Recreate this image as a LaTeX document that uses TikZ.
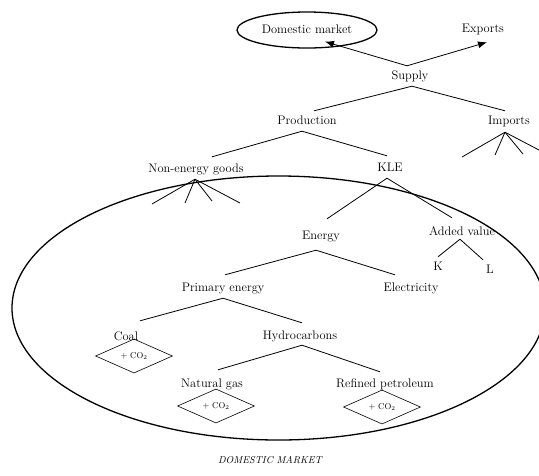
\documentclass[tikz,border=0pt]{standalone}
\usepackage{tikz}
\usetikzlibrary{arrows, arrows.meta, positioning, shapes.geometric}

\begin{document}
\begin{tikzpicture}[x=1pt,y=-1pt]

\tikzset{lbl/.style = {inner xsep=1pt, inner ysep=5pt, text height=8pt, text depth=2pt, font=\fontsize{12.4}{14}\selectfont}}
\tikzset{co2/.style = {shape=diamond, draw, line width=0.6pt, inner sep=0pt, minimum width=77pt, minimum height=25pt, font=\fontsize{8.5}{10}\selectfont}}
\tikzset{link/.style = {line width=0.8pt}}
\tikzset{flow/.style = {line width=0.8pt, -{Latex[length=9pt,width=7pt]}}}
\useasboundingbox (0,0) rectangle (539,475);

% market
\draw[line width=1.3pt] (278.5,308) ellipse [x radius=266.5, y radius=132];
\node[font=\fontsize{10}{12}\selectfont\itshape] (title) at (270,460) {DOMESTIC MARKET};

% nodes
\node[lbl, shape=ellipse, draw, line width=1.3pt, minimum width=140pt, minimum height=36pt] (dm) at (307,30) {Domestic market};
\node[lbl] (exp) at (483,29) {Exports};
\node[lbl] (sup) at (410,76) {Supply};
\node[lbl] (prod) at (307,121) {Production};
\node[lbl] (imp) at (509,121) {Imports};
\node[lbl] (neg) at (196,169) {Non-energy goods};
\node[lbl] (kle) at (390,168) {KLE};
\node[lbl] (en) at (321,236) {Energy};
\node[lbl] (av) at (462,232) {Added value};
\node[lbl] (k) at (438,267) {K};
\node[lbl] (l) at (490,270) {L};
\node[lbl] (pe) at (223,288) {Primary energy};
\node[lbl] (el) at (411,288) {Electricity};
\node[lbl] (coal) at (126,337) {Coal};
\node[lbl] (hc) at (300,336) {Hydrocarbons};
\node[lbl] (ng) at (212,384) {Natural gas};
\node[lbl] (rp) at (385,384) {Refined petroleum};
\node[co2] (co2a) at (134,356) {+ CO$_2$};
\node[co2] (co2b) at (216,406) {+ CO$_2$};
\node[co2] (co2c) at (382,407) {+ CO$_2$};

% fan ends
\foreach \i/\x/\y in {1/152/204, 2/185/203, 3/212/201, 4/240/203}
  \coordinate (negend\i) at (\x,\y);
\foreach \i/\x/\y in {1/462/157, 2/495/155, 3/523/154, 4/539/150}
  \coordinate (impend\i) at (\x,\y);

% edges
\draw[flow] ([xshift=-3pt]sup.north) -- ([xshift=18pt,yshift=7pt]dm.south);
\draw[flow] ([xshift=-3pt]sup.north) -- ([xshift=4pt,yshift=-3pt]exp.south);
\draw[link] ([xshift=2pt]sup.south) -- ([xshift=7pt]prod.north);
\draw[link] ([xshift=2pt]sup.south) -- ([xshift=-4pt]imp.north);
\draw[link] ([xshift=-5pt]prod.south) -- ([xshift=16pt,yshift=2pt]neg.north);
\draw[link] ([xshift=-5pt]prod.south) -- ([xshift=-3pt,yshift=2pt]kle.north);
\foreach \i in {1,...,4}
  \draw[link] ([xshift=-1pt]neg.south) -- (negend\i);
\foreach \i in {1,...,4}
  \draw[link] ([xshift=-4pt,yshift=-1pt]imp.south) -- (impend\i);
\draw[link] ([xshift=-3pt]kle.south) -- ([xshift=6pt,yshift=7pt]en.north);
\draw[link] ([xshift=-3pt]kle.south) -- ([xshift=-10pt,yshift=4pt]av.north);
\draw[link] ([xshift=-2pt,yshift=3pt]av.south) -- (k.north);
\draw[link] ([xshift=-2pt,yshift=3pt]av.south) -- ([xshift=-7pt]l.north);
\draw[link] ([xshift=-5pt,yshift=-4pt]en.south) -- ([xshift=2pt,yshift=3pt]pe.north);
\draw[link] ([xshift=-5pt,yshift=-4pt]en.south) -- ([xshift=-16pt,yshift=3pt]el.north);
\draw[link] (pe.south) -- ([xshift=14pt,yshift=6pt]coal.north);
\draw[link] (pe.south) -- ([xshift=2pt,yshift=3pt]hc.north);
\draw[link] ([xshift=2pt,yshift=1pt]hc.south) -- ([xshift=6pt,yshift=4pt]ng.north);
\draw[link] ([xshift=2pt,yshift=1pt]hc.south) -- ([xshift=-5pt,yshift=2pt]rp.north);
\end{tikzpicture}
\end{document}
